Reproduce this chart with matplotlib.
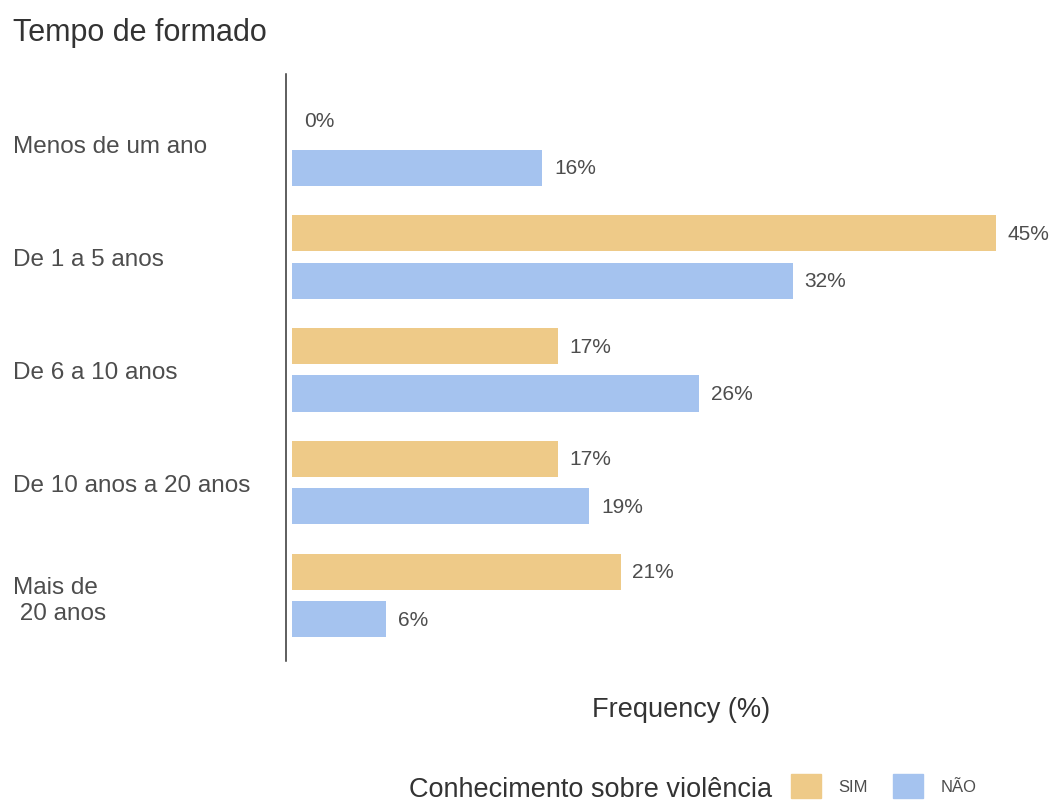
import numpy as np
import matplotlib
matplotlib.use("Agg")
import matplotlib.pyplot as plt
from matplotlib.patches import Patch

plt.rcParams['font.family'] = ['Liberation Sans', 'DejaVu Sans']

categorias = ['Menos de um ano', 'De 1 a 5 anos', 'De 6 a 10 anos',
              'De 10 anos a 20 anos', 'Mais de\n 20 anos']
sim = [0, 45, 17, 17, 21]
nao = [16, 32, 26, 19, 6]

cor_sim = '#EECA88'
cor_nao = '#A5C3EF'
texto = '#4D4D4D'

fig = plt.figure(figsize=(10.54, 8.03), dpi=100)
ax = fig.add_axes([286 / 1054, 1 - 662 / 803, (1040 - 286) / 1054, (662 - 75) / 803])

y = np.arange(len(categorias))
h = 0.32
off = 0.21
ax.barh(y - off, sim, height=h, color=cor_sim)
ax.barh(y + off, nao, height=h, color=cor_nao)

for i in range(len(categorias)):
    ax.text(sim[i] + 0.75, y[i] - off, f'{sim[i]}%', va='center', ha='left',
            fontsize=15, color=texto)
    ax.text(nao[i] + 0.75, y[i] + off, f'{nao[i]}%', va='center', ha='left',
            fontsize=15, color=texto)

ax.set_xlim(-0.38, 47.8)
ax.set_ylim(4.58, -0.62)

ax.set_yticks(y)
ax.set_yticklabels(categorias, fontsize=17.5, color=texto, ha='left', linespacing=1.25)
ax.tick_params(axis='y', length=0, pad=273 * 72 / 100)
ax.set_xticks([])

for s in ['top', 'right', 'bottom']:
    ax.spines[s].set_visible(False)
ax.spines['left'].set_color('#333333')
ax.spines['left'].set_linewidth(1.1)

fig.text(13 / 1054, 1 - 33 / 803, 'Tempo de formado', fontsize=22, color='#333333',
         ha='left', va='center')
fig.text(681 / 1054, 1 - 710 / 803, 'Frequency (%)', fontsize=19.5, color='#333333',
         ha='center', va='center')
fig.text(772 / 1054, 1 - 790 / 803, 'Conhecimento sobre violência', fontsize=19.5,
         color='#333333', ha='right', va='center')

handles = [Patch(color=cor_sim, label='SIM'), Patch(color=cor_nao, label='NÃO')]
leg = fig.legend(handles=handles, loc='center left', bbox_to_anchor=(791 / 1054, 1 - 787 / 803),
                 ncol=2, frameon=False, fontsize=12, handlelength=1.8, handleheight=1.8,
                 handletextpad=1.05, columnspacing=1.5, borderaxespad=0, borderpad=0)
for t in leg.get_texts():
    t.set_color(texto)

fig.savefig('out.png', dpi=100)
